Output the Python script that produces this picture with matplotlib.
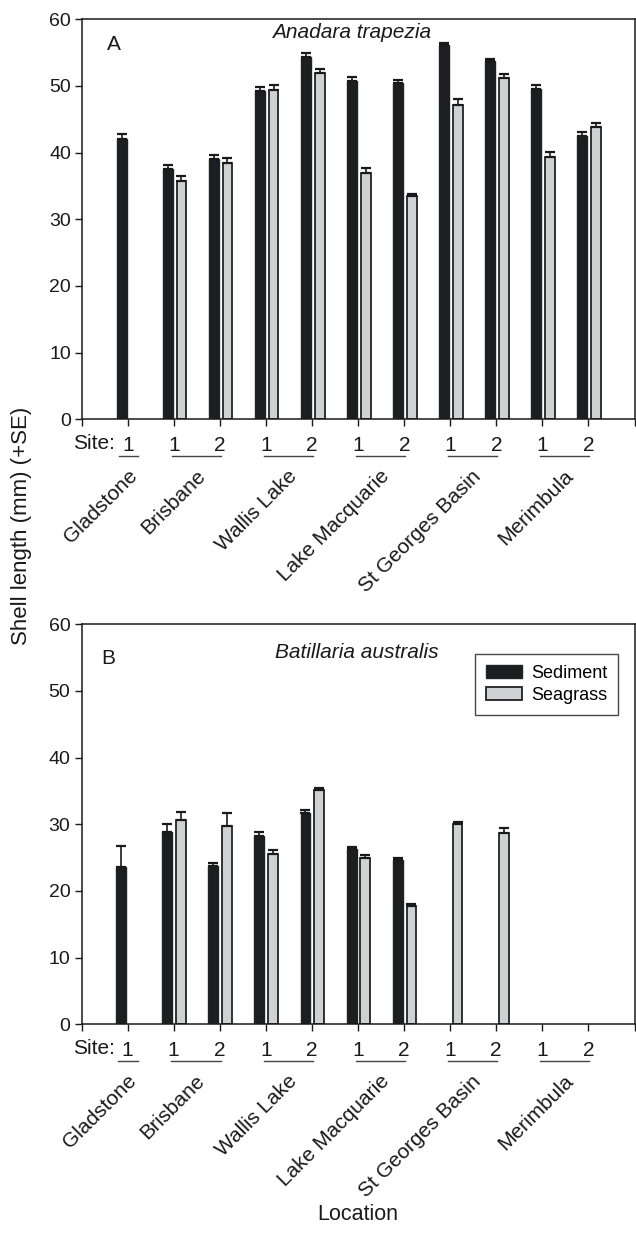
import numpy as np
import matplotlib
matplotlib.use("Agg")
import matplotlib.pyplot as plt
from matplotlib.patches import Patch
import matplotlib.transforms as mtransforms

plt.rcParams['font.family'] = ['Liberation Sans', 'DejaVu Sans']

nan = np.nan
locations = ['Gladstone', 'Brisbane', 'Wallis Lake', 'Lake Macquarie',
             'St Georges Basin', 'Merimbula']
sites_per_location = [1, 2, 2, 2, 2, 2]
site_labels = ['1', '1', '2', '1', '2', '1', '2', '1', '2', '1', '2']

# Panel A: Anadara trapezia
A_sed = [42.1, 37.5, 39.0, 49.2, 54.4, 50.7, 50.5, 56.2, 53.7, 49.6, 42.5]
A_sed_se = [0.7, 0.7, 0.7, 0.6, 0.5, 0.7, 0.4, 0.3, 0.3, 0.5, 0.6]
A_sg = [nan, 35.8, 38.5, 49.4, 52.0, 36.9, 33.5, 47.2, 51.2, 39.4, 43.8]
A_sg_se = [nan, 0.7, 0.7, 0.7, 0.6, 0.8, 0.3, 0.9, 0.6, 0.7, 0.6]

# Panel B: Batillaria australis
B_sed = [23.6, 28.8, 23.8, 28.2, 31.7, 26.3, 24.7, nan, nan, nan, nan]
B_sed_se = [3.1, 1.2, 0.4, 0.7, 0.5, 0.3, 0.3, nan, nan, nan, nan]
B_sg = [nan, 30.7, 29.8, 25.6, 35.1, 25.0, 17.7, 30.0, 28.7, nan, nan]
B_sg_se = [nan, 1.1, 1.9, 0.5, 0.4, 0.4, 0.3, 0.4, 0.7, nan, nan]

SED_C = '#1d1e21'
SG_C = '#cfd1d3'
EDGE = '#222222'
TXT = '#1a1a1a'

W, H = 636, 1242
fig = plt.figure(figsize=(W / 100, H / 100), dpi=100)


def px_axes(left, right, top, bottom):
    return fig.add_axes([left / W, 1 - bottom / H, (right - left) / W, (bottom - top) / H])


axA = px_axes(82, 634.5, 19.3, 419.3)
axB = px_axes(81.5, 634.5, 624.3, 1024.3)


def draw_panel(ax, sed, sed_se, sg, sg_se, letter, title, letter_xy, title_xy):
    x = np.arange(1, len(sed) + 1)
    bw = 0.215
    sed = np.array(sed, float); sg = np.array(sg, float)
    sed_se = np.array(sed_se, float); sg_se = np.array(sg_se, float)
    ms = ~np.isnan(sed)
    mg = ~np.isnan(sg)
    ax.bar(x[ms] - 0.14, sed[ms], width=bw, color=SED_C, edgecolor=EDGE,
           linewidth=1.0, zorder=2, label='Sediment')
    ax.errorbar(x[ms] - 0.14, sed[ms], yerr=[np.zeros(ms.sum()), sed_se[ms]],
                fmt='none', ecolor=TXT, elinewidth=1.2, capsize=3.9,
                capthick=1.6, zorder=3)
    ax.bar(x[mg] + 0.16, sg[mg], width=bw, color=SG_C, edgecolor=EDGE,
           linewidth=1.3, zorder=2, label='Seagrass')
    ax.errorbar(x[mg] + 0.16, sg[mg], yerr=[np.zeros(mg.sum()), sg_se[mg]],
                fmt='none', ecolor=TXT, elinewidth=1.2, capsize=3.9,
                capthick=1.6, zorder=3)

    ax.set_xlim(0, 12)
    ax.set_ylim(0, 60)
    ax.set_yticks(np.arange(0, 61, 10))
    ax.set_xticks(np.arange(0, 13))
    ax.set_xticklabels([''] + site_labels + [''])
    ax.tick_params(axis='both', direction='out', length=5, width=1.0,
                   labelsize=14, colors=TXT)
    ax.tick_params(axis='x', pad=7, labelsize=15)
    ax.tick_params(axis='y', pad=3)
    for s in ax.spines.values():
        s.set_linewidth(1.1)
        s.set_color(TXT)

    trans = mtransforms.blended_transform_factory(ax.transData, ax.transAxes)
    ax.text(0.72, -0.0595, 'Site:', transform=trans, ha='right', va='center',
            fontsize=15, color=TXT)

    # group underlines and location labels
    pos = 1
    for loc, n in zip(locations, sites_per_location):
        first, last = pos, pos + n - 1
        if n == 1:
            x0, x1 = first - 0.2, first + 0.22
        else:
            x0, x1 = first - 0.05, last + 0.02
        ax.plot([x0, x1], [-0.092, -0.092], transform=trans, color='#444444',
                lw=1.0, clip_on=False)
        cx = (x0 + x1) / 2
        ax.text(cx - 0.02, -0.118, loc, transform=trans, rotation=45,
                rotation_mode='anchor', ha='right', va='top', fontsize=15,
                color=TXT)
        pos += n

    ax.text(letter_xy[0], letter_xy[1], letter, transform=ax.transAxes,
            fontsize=15, ha='left', va='center', color=TXT)
    ax.text(title_xy[0], title_xy[1], title, transform=ax.transAxes, fontsize=15,
            style='italic', ha='center', va='center', color=TXT)


draw_panel(axA, A_sed, A_sed_se, A_sg, A_sg_se, 'A', 'Anadara trapezia',
           ((107 - 82) / 552.5, 1 - (44.7 - 19.3) / 400),
           ((352 - 82) / 552.5, 1 - (32 - 19.3) / 400))
draw_panel(axB, B_sed, B_sed_se, B_sg, B_sg_se, 'B', 'Batillaria australis',
           ((101 - 81.5) / 553, 1 - (658 - 624.3) / 400),
           ((357 - 81.5) / 553, 1 - (653 - 624.3) / 400))

handles = [Patch(facecolor=SED_C, edgecolor=EDGE, linewidth=1.0, label='Sediment'),
           Patch(facecolor=SG_C, edgecolor=EDGE, linewidth=1.3, label='Seagrass')]
leg = axB.legend(handles=handles, loc='upper right', bbox_to_anchor=(0.970, 0.926),
                 borderaxespad=0, frameon=True, fancybox=False, fontsize=13,
                 handlelength=2.0, handleheight=0.75, handletextpad=0.5,
                 borderpad=0.6, labelspacing=0.3)
leg.get_frame().set_edgecolor(TXT)
leg.get_frame().set_linewidth(1.0)

fig.text(22 / W, 1 - 526 / H, 'Shell length (mm) (+SE)', rotation=90,
         ha='center', va='center', fontsize=16, color=TXT)
fig.text(358 / W, 1 - 1214 / H, 'Location', ha='center', va='center',
         fontsize=15.5, color=TXT)

fig.savefig('out.png', dpi=100, facecolor='white')
